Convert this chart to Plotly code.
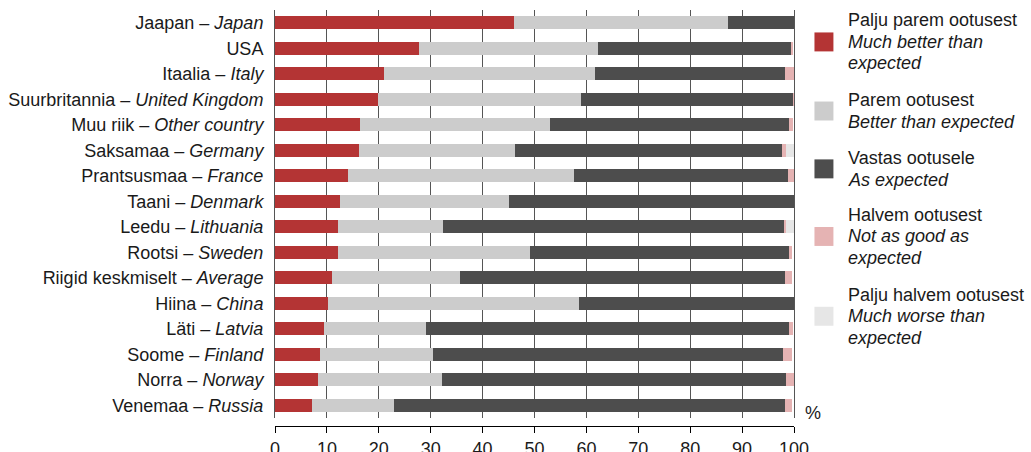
import plotly.graph_objects as go

# Countries, top to bottom (Estonian – English)
countries_et = ["Jaapan", "USA", "Itaalia", "Suurbritannia", "Muu riik", "Saksamaa",
                "Prantsusmaa", "Taani", "Leedu", "Rootsi", "Riigid keskmiselt",
                "Hiina", "Läti", "Soome", "Norra", "Venemaa"]
countries_en = ["Japan", "", "Italy", "United Kingdom", "Other country", "Germany",
                "France", "Denmark", "Lithuania", "Sweden", "Average",
                "China", "Latvia", "Finland", "Norway", "Russia"]

# Shares of answers, %
much_better = [46.0, 27.7, 21.0, 19.9, 16.4, 16.2, 14.0, 12.5, 12.2, 12.1, 10.9, 10.3, 9.4, 8.6, 8.2, 7.1]
better      = [41.2, 34.6, 40.6, 39.0, 36.5, 30.0, 43.7, 32.5, 20.2, 37.0, 24.8, 48.2, 19.6, 21.9, 24.0, 15.9]
as_expected = [12.8, 37.2, 36.7, 41.0, 46.2, 51.5, 41.2, 55.0, 65.7, 50.0, 62.6, 41.5, 70.1, 67.4, 66.3, 75.3]
not_as_good = [0.0, 0.3, 1.7, 0.1, 0.8, 0.8, 1.1, 0.0, 0.4, 0.6, 1.4, 0.0, 0.8, 1.8, 1.5, 1.4]
much_worse  = [0.0, 0.0, 0.0, 0.0, 0.0, 1.5, 0.0, 0.0, 1.5, 0.0, 0.0, 0.0, 0.0, 0.0, 0.0, 0.0]

series_values = [much_better, better, as_expected, not_as_good, much_worse]
series_et = ["Palju parem ootusest", "Parem ootusest", "Vastas ootusele",
             "Halvem ootusest", "Palju halvem ootusest"]
series_en = [["Much better than", "expected"], ["Better than expected"], ["As expected"],
             ["Not as good as", "expected"], ["Much worse than", "expected"]]
colors = ["#B43434", "#CCCCCC", "#4D4D4D", "#E5B3B3", "#E6E6E6"]

x_ticks = [0, 10, 20, 30, 40, 50, 60, 70, 80, 90, 100]

W, H = 1031, 452
L, R = 274.5, 794.5          # plot area, px
TOP, AXIS_Y = 9.5, 426.5     # top of plot, x-axis line, px
BAR_BOTTOM = 418.5
FONT = "Liberation Sans, Arial, sans-serif"
TXT = "#1a1a1a"
FS = 18
GRID = "#555555"


def px_x(x):
    return (x - L) / (R - L)


def px_y(y):
    return (AXIS_Y - y) / (AXIS_Y - TOP)


Y0 = (AXIS_Y - BAR_BOTTOM) / (AXIS_Y - TOP)   # bottom of the bar area, paper units

labels = [et + (" – <i>" + en + "</i>" if en else "") for et, en in zip(countries_et, countries_en)]

fig = go.Figure()
for name, vals, col in zip(series_et, series_values, colors):
    fig.add_trace(go.Bar(
        y=labels, x=vals, orientation="h", name=name,
        marker=dict(color=col, line=dict(width=0)),
        showlegend=False, hoverinfo="x+y",
    ))

# empty trace on a flat subplot that carries the value axis below the bars
fig.add_trace(go.Scatter(x=[None], y=[None], xaxis="x2", yaxis="y2",
                         mode="markers", showlegend=False, hoverinfo="skip"))

annotations = []
shapes = []

# Legend: swatch beside each block of text
line_h = 21.5
block_tops = [20, 100, 158, 215, 295]
for i, (et, en_lines, col) in enumerate(zip(series_et, series_en, colors)):
    lines = [(et, False)] + [(t, True) for t in en_lines]
    y0 = block_tops[i]
    for k, (t, it) in enumerate(lines):
        annotations.append(dict(
            x=px_x(847), y=px_y(y0 + k * line_h), xref="paper", yref="paper",
            text=("<i>" + t + "</i>") if it else t, showarrow=False,
            xanchor="left", yanchor="middle", font=dict(size=FS, color=TXT, family=FONT),
        ))
    n = len(lines)
    yc = y0 + (n - 1) * line_h / 2 if n == 2 else y0 + line_h
    shapes.append(dict(
        type="rect", xref="paper", yref="paper",
        x0=px_x(815), x1=px_x(834), y0=px_y(yc - 9.5), y1=px_y(yc + 9.5),
        fillcolor=col, line=dict(width=0),
    ))

annotations.append(dict(
    x=px_x(804), y=px_y(413), xref="paper", yref="paper", text="%",
    showarrow=False, xanchor="left", yanchor="middle",
    font=dict(size=FS, color=TXT, family=FONT),
))

fig.update_layout(
    barmode="stack",
    bargap=0.5,
    width=W, height=H,
    margin=dict(l=L, r=W - R, t=TOP, b=H - AXIS_Y, pad=0),
    plot_bgcolor="rgba(0,0,0,0)", paper_bgcolor="white",
    font=dict(family=FONT, size=FS, color=TXT),
    # bar area: vertical grid only
    xaxis=dict(
        range=[0, 100], tickvals=x_ticks,
        showgrid=True, gridcolor=GRID, gridwidth=1,
        showline=False, ticks="", showticklabels=False,
        zeroline=False, automargin=False, anchor="y",
    ),
    # category axis; its line (and mirror) give the grid at 0 and 100
    yaxis=dict(
        domain=[Y0, 1], anchor="x",
        range=[len(labels) - 0.5, -0.5], categoryorder="array", categoryarray=labels,
        showgrid=False, showline=True, mirror=True, linecolor=GRID, linewidth=1,
        ticks="", ticklabelstandoff=7,
        zeroline=False, automargin=False,
    ),
    # value axis with line, ticks and labels
    xaxis2=dict(
        range=[0, 100], tickvals=x_ticks, ticktext=[str(v) for v in x_ticks],
        anchor="y2",
        showgrid=False, showline=True, linecolor="#000000", linewidth=1,
        ticks="outside", ticklen=6, tickcolor="#000000", tickwidth=1,
        tickfont=dict(size=FS, color=TXT, family=FONT),
        zeroline=False, automargin=False,
    ),
    yaxis2=dict(
        domain=[0, 0.001], anchor="x2", range=[0, 1], visible=False,
        showgrid=False, zeroline=False, automargin=False,
    ),
    annotations=annotations,
    shapes=shapes,
)

fig.write_html("out.html")
